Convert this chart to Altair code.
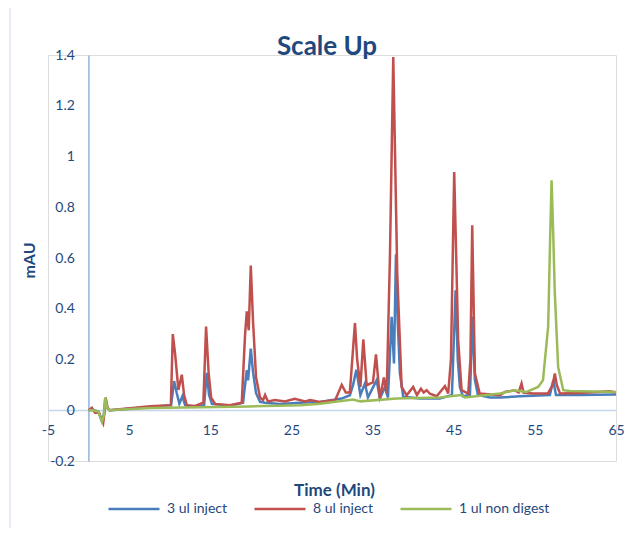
import altair as alt
import pandas as pd

# ---- data ----
blue_t = [0.0, 0.5, 1.2, 1.6, 1.85, 2.05, 2.3, 2.6, 3.5, 7.6, 10.17, 10.54, 10.85, 11.19, 11.56, 11.9,
          13.1, 14.24, 14.57, 14.85, 15.2, 17.4, 19.04, 19.5, 19.66, 19.99, 20.27, 20.64, 21.13, 21.75,
          23.6, 26.06, 28.5, 31.2, 32.2, 32.6, 33.0, 33.5, 34.06, 34.43, 35.08, 35.5, 35.9, 36.53, 36.9,
          37.35, 37.64, 37.88, 38.1, 38.37, 38.78, 40.84, 43.3, 44.78, 45.23, 45.5, 45.76, 46.13, 47.0,
          47.33, 47.61, 47.98, 49.46, 50.7, 53.15, 56.85, 57.27, 57.6, 60.5, 65.0]
blue_v = [0.0, 0.002, -0.005, -0.04, -0.025, 0.045, 0.01, 0.0, 0.002, 0.013, 0.02, 0.115, 0.07, 0.026, 0.055, 0.02,
          0.013, 0.02, 0.147, 0.06, 0.025, 0.018, 0.03, 0.158, 0.118, 0.243, 0.15, 0.067, 0.033, 0.03,
          0.025, 0.03, 0.033, 0.046, 0.059, 0.1, 0.16, 0.06, 0.105, 0.05, 0.092, 0.118, 0.046, 0.092, 0.05,
          0.368, 0.184, 0.615, 0.35, 0.145, 0.053, 0.046, 0.046, 0.06, 0.473, 0.2, 0.092, 0.055, 0.06,
          0.368, 0.12, 0.06, 0.05, 0.05, 0.055, 0.06, 0.118, 0.06, 0.06, 0.062]

red_t = [0.0, 0.4, 0.8, 1.3, 1.8, 2.0, 2.1, 2.35, 2.6, 3.5, 7.6, 10.14, 10.38, 10.67, 11.07, 11.49, 11.77,
         12.1, 13.13, 14.15, 14.48, 14.79, 15.1, 15.6, 17.44, 18.88, 19.29, 19.5, 19.74, 19.99, 20.27,
         20.64, 21.13, 21.5, 21.75, 22.1, 22.98, 24.2, 25.4, 26.7, 27.3, 28.5, 30.4, 31.2, 31.7, 32.2,
         32.83, 33.1, 33.5, 33.86, 34.27, 34.68, 35.05, 35.42, 35.9, 36.4, 36.74, 37.14, 37.55, 38.04,
         38.58, 39.2, 40.0, 40.47, 40.96, 41.3, 41.66, 42.07, 42.9, 43.92, 44.32, 44.66, 45.06, 45.55,
         45.97, 46.79, 47.06, 47.28, 47.61, 48.2, 50.7, 51.3, 52.5, 53.0, 53.36, 53.6, 54.75, 56.6,
         57.2, 57.46, 57.7, 58.1, 60.5, 64.2, 65.0]
red_v = [0.0, 0.01, -0.01, -0.01, -0.05, 0.0, 0.05, 0.01, 0.0, 0.003, 0.016, 0.02, 0.30, 0.22, 0.08, 0.14, 0.06,
         0.02, 0.017, 0.03, 0.33, 0.15, 0.05, 0.025, 0.02, 0.03, 0.30, 0.39, 0.315, 0.57, 0.35,
         0.13, 0.05, 0.04, 0.06, 0.035, 0.04, 0.035, 0.045, 0.035, 0.04, 0.033, 0.04, 0.10, 0.07, 0.07,
         0.344, 0.2, 0.092, 0.279, 0.098, 0.105, 0.11, 0.22, 0.046, 0.129, 0.066, 0.604, 1.392, 0.539,
         0.092, 0.059, 0.092, 0.06, 0.085, 0.07, 0.079, 0.065, 0.055, 0.095, 0.066, 0.2, 0.939, 0.276,
         0.079, 0.066, 0.2, 0.729, 0.145, 0.066, 0.059, 0.072, 0.079, 0.07, 0.105, 0.07, 0.066, 0.066,
         0.10, 0.145, 0.10, 0.066, 0.068, 0.075, 0.07]

green_t = [0.0, 0.5, 1.2, 1.65, 1.9, 2.05, 2.3, 2.6, 3.5, 7.6, 19.9, 26.06, 28.5, 32.6, 33.5, 37.97, 43.3,
           45.9, 46.4, 50.7, 52.5, 53.97, 55.4, 56.0, 56.64, 56.9, 57.06, 57.26, 57.46, 57.87, 58.5, 59.3, 65.0]
green_v = [0.0, 0.0, -0.005, -0.045, -0.02, 0.05, 0.01, 0.0, 0.002, 0.009, 0.015, 0.02, 0.026, 0.042, 0.035, 0.046, 0.05,
           0.06, 0.05, 0.066, 0.079, 0.072, 0.092, 0.118, 0.33, 0.7, 0.906, 0.7, 0.46, 0.17, 0.079, 0.076, 0.072]

series_names = ["3 ul inject", "8 ul inject", "1 ul non digest"]
series_colors = ["#4A7EBB", "#C0504D", "#9BBB59"]
x_ticks = [-5, 5, 15, 25, 35, 45, 55, 65]
y_ticks = [-0.2, 0, 0.2, 0.4, 0.6, 0.8, 1, 1.2, 1.4]

frames = []
for name, ts, vs in zip(series_names, [blue_t, red_t, green_t], [blue_v, red_v, green_v]):
    frames.append(pd.DataFrame({"t": ts, "v": vs, "series": name}))
df = pd.concat(frames, ignore_index=True)

TXT = "#1F497D"
FONT = "Lato"

x_enc = alt.X("t:Q", scale=alt.Scale(domain=[-5, 65], nice=False, zero=False),
              axis=alt.Axis(values=x_ticks, labelExpr="'' + datum.value", labelFlush=False,
                            ticks=False, tickSize=0, grid=False, domainColor="#C5D6EC", domainWidth=1.5,
                            offset=-51, labelPadding=13, labelFontSize=14, labelFont=FONT, labelColor=TXT,
                            title="Time (Min)", titleFontSize=17, titleFont=FONT, titleFontWeight="bold",
                            titleColor=TXT, titleX=286, titleY=85, titleBaseline="alphabetic"))
y_enc = alt.Y("v:Q", scale=alt.Scale(domain=[-0.2, 1.4], nice=False, zero=False),
              axis=alt.Axis(values=y_ticks, labelExpr="'' + datum.value", ticks=False, tickSize=0,
                            grid=False, domainColor="#95B3D7", domainWidth=1.5, offset=-40.4,
                            labelPadding=14, labelFontSize=14, labelFont=FONT, labelColor=TXT,
                            title="mAU", titleFontSize=16, titleFont=FONT, titleFontWeight="bold",
                            titleColor=TXT, titleX=-54, titleY=205, titleBaseline="alphabetic"))
color_enc = alt.Color("series:N", scale=alt.Scale(domain=series_names, range=series_colors),
                      legend=alt.Legend(orient="none", legendX=59, legendY=427, direction="horizontal",
                                        title=None, symbolType="stroke", symbolSize=2601,
                                        symbolStrokeWidth=2.5, labelFontSize=14, labelFont=FONT,
                                        labelColor=TXT, labelOffset=6, columnPadding=21, padding=0,
                                        columns=3))

layers = []
for name in series_names:
    layers.append(
        alt.Chart(df).transform_filter(alt.datum.series == name)
        .mark_line(strokeWidth=2.5)
        .encode(x=x_enc, y=y_enc, color=color_enc, order="t:Q")
    )

border = alt.Chart(pd.DataFrame({"a": [0]})).mark_rule(color="#DCE6F2", strokeWidth=1.5).encode(
    x=alt.value(-38), y=alt.value(-55), y2=alt.value(481))

chart = alt.layer(border, *layers).properties(
    width=568, height=406,
    title=alt.Title("Scale Up", fontSize=26, font=FONT, fontWeight="bold", color=TXT,
                    anchor="middle", dx=-5, offset=-82, baseline="alphabetic"),
    autosize=alt.AutoSizeParams(type="none"),
    padding={"left": 40, "top": 47, "right": 9, "bottom": 67},
).configure_view(stroke=None).configure(background="white")

chart.save("out.html", embed_options={"renderer": "svg", "actions": False})
